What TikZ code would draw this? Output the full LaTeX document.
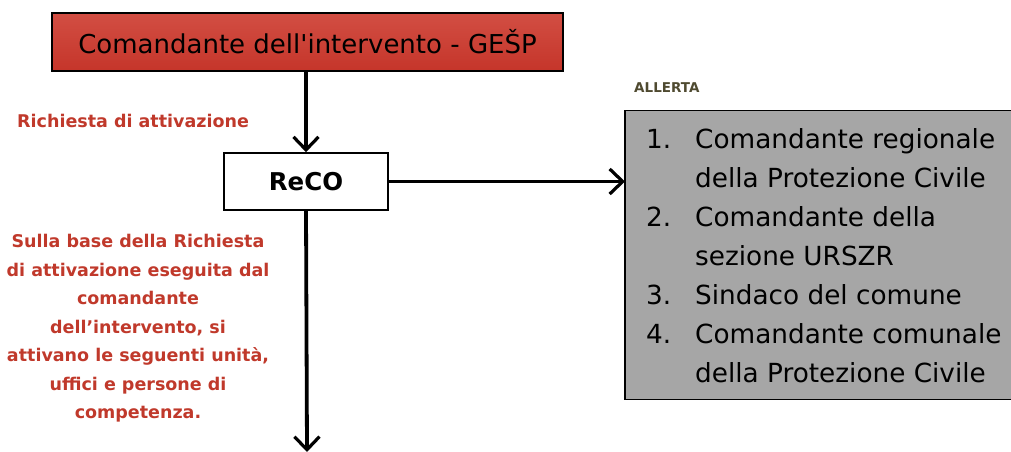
\documentclass[tikz,border=0pt]{standalone}
\usepackage{fontspec}
\setmainfont{DejaVu Sans}
\usetikzlibrary{arrows.meta}
\definecolor{redtop}{HTML}{D24E43}
\definecolor{redbot}{HTML}{C5352A}
\definecolor{redtxt}{HTML}{C0392B}
\definecolor{boxgray}{HTML}{A6A6A6}
\definecolor{olive}{HTML}{4F4A30}
\newcommand{\straightquote}{\XeTeXglyph\the\XeTeXcharglyph"27\relax}
\tikzset{
  conn/.style={line width=3.8pt, -{Straight Barb[length=13pt,width=25pt,line width=3.2pt]}},
  topbox/.style={draw=black, line width=1.6pt, top color=redtop, bottom color=redbot, minimum width=511pt, minimum height=58pt, inner sep=0pt, font=\fontsize{26}{30}\selectfont},
  recobox/.style={draw=black, line width=1.6pt, fill=white, minimum width=164pt, minimum height=57pt, inner sep=0pt, font=\bfseries\fontsize{24.5}{28}\selectfont},
  graybox/.style={draw=black, line width=1.6pt, fill=boxgray},
  redlabel/.style={text=redtxt, font=\bfseries\fontsize{17.5}{28.5}\selectfont, align=center, inner sep=0pt},
  listtxt/.style={anchor=base west, inner sep=0pt, font=\fontsize{26.3}{39}\selectfont},
}
\begin{document}
\begin{tikzpicture}[x=1pt,y=-1pt]
\useasboundingbox (0,0) rectangle (1011,452);
\node[topbox] (cmd) at (307.5,42) {Comandante dell\straightquote intervento - GEŠP};
\node[recobox] (reco) at (306,181.5) {ReCO};
\draw[graybox] (625,110.5) rectangle (1014,399.5);
\coordinate (grayin) at (625,181.5);
\node[anchor=west, inner sep=0pt, text=olive, font=\bfseries\fontsize{13.5}{15}\selectfont] (allerta) at (634,88) {ALLERTA};
\node[listtxt] (n1) at (646,148) {1.};
\node[listtxt] (t1) at (695,148) {Comandante regionale};
\node[listtxt] (t1b) at (695,187) {della Protezione Civile};
\node[listtxt] (n2) at (646,226.5) {2.};
\node[listtxt] (t2) at (695,226.5) {Comandante della};
\node[listtxt] (t2b) at (695,265.5) {sezione URSZR};
\node[listtxt] (n3) at (646,304.5) {3.};
\node[listtxt] (t3) at (695,304.5) {Sindaco del comune};
\node[listtxt] (n4) at (646,343.5) {4.};
\node[listtxt] (t4) at (695,343.5) {Comandante comunale};
\node[listtxt] (t4b) at (695,382) {della Protezione Civile};
\node[redlabel, anchor=west] (rich) at (17,121) {Richiesta di attivazione};
\node[redlabel, anchor=north] (para) at (138,234) {Sulla base della Richiesta\\di attivazione eseguita dal\\comandante\\dell’intervento, si\\attivano le seguenti unità,\\uffici e persone di\\competenza.};
\coordinate (bottomend) at (307,452);
\draw[conn] (cmd.south -| reco.north) -- (reco.north);
\draw[conn] (reco.east) -- (grayin);
\draw[conn] (reco.south) -- (bottomend);
\end{tikzpicture}
\end{document}
